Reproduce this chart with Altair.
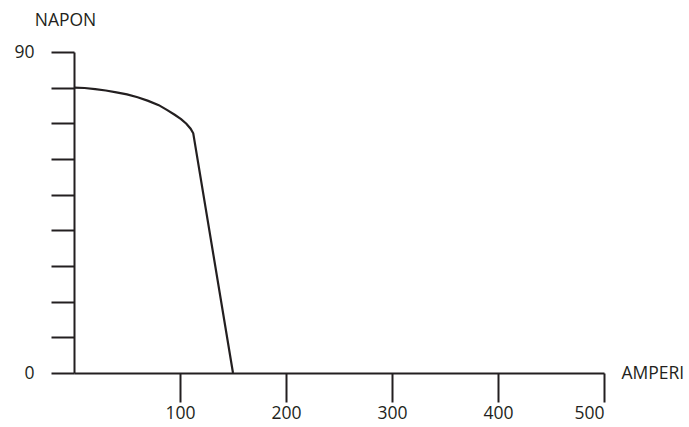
import altair as alt
import pandas as pd

amperi = [0, 10, 20, 30, 40, 50, 60, 70, 80, 88, 95, 101, 106, 110, 112.5, 150]
napon = [80, 79.9, 79.6, 79.2, 78.7, 78.1, 77.3, 76.3, 75.1, 73.7, 72.4, 71.2, 69.9, 68.5, 67.2, 0]
x_ticks = [100, 200, 300, 400, 500]
y_ticks = [0, 10, 20, 30, 40, 50, 60, 70, 80, 90]

df = pd.DataFrame({"amperi": amperi, "napon": napon, "order": range(len(amperi))})

INK = "#231f20"
FONT = "Open Sans"
FS = 17.5

chart = alt.Chart(df).mark_line(color=INK, strokeWidth=2.2, interpolate="linear").encode(
    x=alt.X("amperi:Q",
            scale=alt.Scale(domain=[0, 500], nice=False, zero=True),
            axis=alt.Axis(values=x_ticks, grid=False, domainColor=INK, domainWidth=2,
                          tickColor=INK, tickWidth=2, tickSize=29, labelPadding=2,
                          labelFont=FONT, labelFontSize=FS, labelColor=INK,
                          title="AMPERI", titleFont=FONT, titleFontSize=FS,
                          titleFontWeight="normal", titleColor=INK,
                          titleAngle=0, titleX=547, titleY=0, titleAlign="left",
                          titleBaseline="middle")),
    y=alt.Y("napon:Q",
            scale=alt.Scale(domain=[0, 90], nice=False),
            axis=alt.Axis(values=y_ticks, grid=False, domainColor=INK, domainWidth=2,
                          tickColor=INK, tickWidth=2, tickSize=23, labelPadding=17,
                          labelExpr="datum.value == 0 || datum.value == 90 ? datum.label : ''",
                          labelFont=FONT, labelFontSize=FS, labelColor=INK,
                          title="NAPON", titleFont=FONT, titleFontSize=FS,
                          titleFontWeight="normal", titleColor=INK,
                          titleAngle=0, titleX=-9, titleY=-32, titleAlign="center",
                          titleBaseline="middle")),
    order="order:Q",
).properties(
    width=530, height=321,
    background="white",
    autosize=alt.AutoSizeParams(type="none"),
    padding={"left": 74, "top": 52, "right": 85, "bottom": 54},
).configure_view(strokeWidth=0)

chart.save("out.html", embed_options={"renderer": "svg", "actions": False})
